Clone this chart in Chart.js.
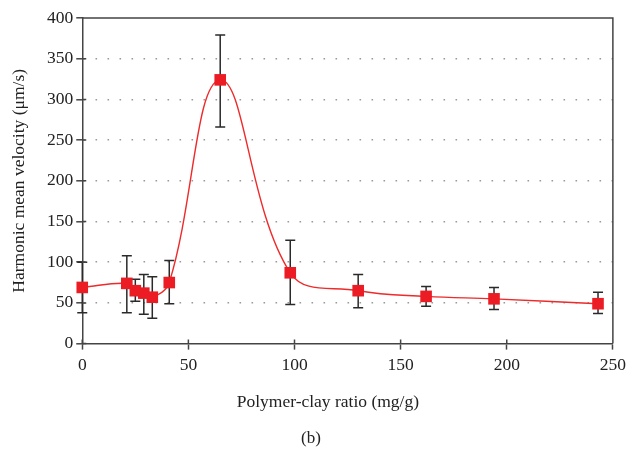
<!DOCTYPE html>
<html>
<head>
<meta charset="utf-8">
<script src="https://cdn.jsdelivr.net/npm/chart.js@4.4.1/dist/chart.umd.min.js"></script>
<style>
  html, body { margin: 0; padding: 0; background: #fff; }
  #wrap { width: 631px; height: 453px; }
</style>
</head>
<body>
<div id="wrap"><canvas id="myChart" width="631" height="453"></canvas></div>
<script>
// Datos
const ratios = [0, 21, 25, 29, 33, 41, 65, 98, 130, 162, 194, 243];
const velocity = [69, 74, 65, 62, 57, 75, 324, 87, 65, 58, 55, 49];
const errLow = [38, 38, 52, 36, 31, 49, 266, 48, 44, 46, 42, 37];
const errHigh = [100, 108, 79, 85, 82, 102, 379, 127, 85, 70, 69, 63];
const xTicks = [0, 50, 100, 150, 200, 250];
const yTicks = [0, 50, 100, 150, 200, 250, 300, 350, 400];

const serif = "'Liberation Serif', 'DejaVu Serif', serif";
const ink = '#222';
const axisColor = '#444';

// Barras de error, marco y marcas interiores
const errorBars = {
    id: 'errorBars',
    beforeDatasetsDraw(chart) {
        const ctx = chart.ctx;
        const xs = chart.scales.x;
        const ys = chart.scales.y;
        ctx.save();
        ctx.strokeStyle = '#2a2a2a';
        ctx.lineWidth = 1.5;
        for (let i = 0; i < ratios.length; i++) {
            const px = xs.getPixelForValue(ratios[i]);
            const top = ys.getPixelForValue(errHigh[i]);
            const bot = ys.getPixelForValue(errLow[i]);
            ctx.beginPath();
            ctx.moveTo(px, top);
            ctx.lineTo(px, bot);
            ctx.moveTo(px - 5, top);
            ctx.lineTo(px + 5, top);
            ctx.moveTo(px - 5, bot);
            ctx.lineTo(px + 5, bot);
            ctx.stroke();
        }
        ctx.restore();
    },
    afterDraw(chart) {
        const ctx = chart.ctx;
        const a = chart.chartArea;
        const xs = chart.scales.x;
        const ys = chart.scales.y;
        ctx.save();
        ctx.strokeStyle = axisColor;
        ctx.lineWidth = 1.5;
        ctx.beginPath();
        ctx.moveTo(a.left, a.top);
        ctx.lineTo(a.right, a.top);
        ctx.lineTo(a.right, a.bottom);
        // marcas hacia dentro
        yTicks.forEach(v => {
            const py = ys.getPixelForValue(v);
            ctx.moveTo(a.left, py);
            ctx.lineTo(a.left + 4, py);
        });
        xTicks.forEach(v => {
            const px = xs.getPixelForValue(v);
            ctx.moveTo(px, a.bottom);
            ctx.lineTo(px, a.bottom - 4);
        });
        ctx.stroke();
        ctx.restore();
    }
};

const ctx = document.getElementById('myChart').getContext('2d');
const myChart = new Chart(ctx, {
    type: 'line',
    data: {
        datasets: [{
            label: 'Harmonic mean velocity',
            data: ratios.map((r, i) => ({ x: r, y: velocity[i] })),
            borderColor: '#ee2a2a',
            backgroundColor: '#ec1c24',
            borderWidth: 1.4,
            tension: 0.4,
            pointStyle: 'rect',
            pointRadius: 8.2,
            pointHoverRadius: 8.2,
            pointBorderWidth: 0,
            clip: false
        }]
    },
    options: {
        responsive: false,
        animation: false,
        layout: {
            padding: { left: 9, right: 18, top: 18, bottom: 4 }
        },
        plugins: {
            legend: { display: false },
            tooltip: { enabled: false },
            title: {
                display: true,
                position: 'bottom',
                text: '(b)',
                color: ink,
                font: { family: serif, size: 17, weight: 'normal' },
                padding: { top: 16, bottom: 0 }
            }
        },
        scales: {
            x: {
                type: 'linear',
                min: 0,
                max: 250,
                afterBuildTicks: axis => { axis.ticks = xTicks.map(v => ({ value: v })); },
                grid: {
                    drawOnChartArea: false,
                    tickLength: 6,
                    tickColor: axisColor,
                    tickWidth: 1.5
                },
                border: { color: axisColor, width: 1.5 },
                ticks: {
                    color: ink,
                    font: { family: serif, size: 17.5 },
                    padding: 5,
                    maxRotation: 0
                },
                title: {
                    display: true,
                    text: 'Polymer-clay ratio (mg/g)\u2002\u2002\u2002\u2002 ',
                    color: ink,
                    font: { family: serif, size: 17.5 },
                    padding: { top: 11, bottom: 0 }
                }
            },
            y: {
                min: 0,
                max: 400,
                afterBuildTicks: axis => { axis.ticks = yTicks.map(v => ({ value: v })); },
                grid: {
                    color: c => (c.tick && (c.tick.value === 0 || c.tick.value === 400)) ? 'rgba(0,0,0,0)' : '#9a9a9a',
                    lineWidth: 1.6,
                    tickLength: 6,
                    tickColor: axisColor,
                    tickWidth: 1.5,
                    tickBorderDash: []
                },
                border: { color: axisColor, width: 1.5, dash: [1.6, 10.4] },
                ticks: {
                    color: ink,
                    font: { family: serif, size: 17.5 },
                    padding: 3
                },
                title: {
                    display: true,
                    text: 'Harmonic mean velocity (μm/s)',
                    color: ink,
                    font: { family: serif, size: 17.5 },
                    padding: { top: 0, bottom: 14 }
                }
            }
        }
    },
    plugins: [errorBars]
});
</script>
</body>
</html>
